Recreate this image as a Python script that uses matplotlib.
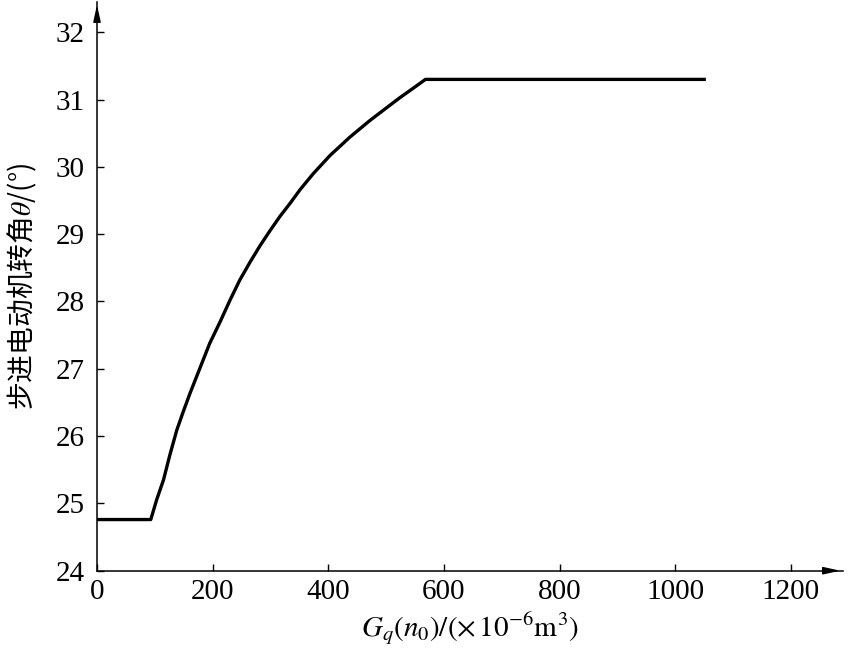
import matplotlib
matplotlib.use("Agg")
import matplotlib.pyplot as plt

# data
gq = [0, 93, 103, 115, 126, 138, 149, 161, 178, 195, 213, 230, 247, 265, 282,
      299, 316, 334, 351, 374, 403, 437, 472, 501, 524, 547, 568, 1050]
theta = [24.76, 24.76, 25.05, 25.35, 25.72, 26.09, 26.36, 26.64, 27.01, 27.38,
         27.70, 28.02, 28.32, 28.59, 28.83, 29.05, 29.26, 29.46, 29.66, 29.90,
         30.17, 30.44, 30.69, 30.88, 31.03, 31.17, 31.30, 31.30]
xticks = [0, 200, 400, 600, 800, 1000, 1200]
yticks = [24, 25, 26, 27, 28, 29, 30, 31, 32]

plt.rcParams['mathtext.fontset'] = 'stix'
plt.rcParams['font.family'] = ['Liberation Serif', 'DejaVu Serif']

fig = plt.figure(figsize=(8.49, 6.5), dpi=100)
ax = fig.add_axes([97/849, 79.3/650, (843-97)/849, (570.7-2)/650])

ax.plot(gq, theta, color='black', lw=2.4, solid_joinstyle='round')

ax.set_xlim(0, 1290)
ax.set_ylim(24, 32.45)
ax.set_xticks(xticks)
ax.set_yticks(yticks)

for s in ['top', 'right']:
    ax.spines[s].set_visible(False)
for s in ['left', 'bottom']:
    ax.spines[s].set_linewidth(1.1)

ax.tick_params(axis='both', direction='in', length=5, width=1, labelsize=21)
ax.tick_params(axis='x', pad=6)
ax.tick_params(axis='y', pad=9)

# arrows at axis ends
ax.annotate('', xy=(1.0, 0), xytext=(0.97, 0), xycoords='axes fraction',
            arrowprops=dict(arrowstyle='-|>,head_length=1.0,head_width=0.22',
                            color='black', lw=1.1), annotation_clip=False)
ax.annotate('', xy=(0, 1.0), xytext=(0, 0.97), xycoords='axes fraction',
            arrowprops=dict(arrowstyle='-|>,head_length=1.0,head_width=0.22',
                            color='black', lw=1.1), annotation_clip=False)

ax.set_xlabel(r'$G_q(n_0)/(\times\,10^{-6}\mathrm{m}^3)$', fontsize=21, labelpad=4)
ax.set_ylabel('步进电动机转角$\\theta$/(°)', fontsize=20,
              family=['Noto Sans CJK SC', 'DejaVu Sans'], labelpad=12)

fig.savefig('out.png', dpi=100)
